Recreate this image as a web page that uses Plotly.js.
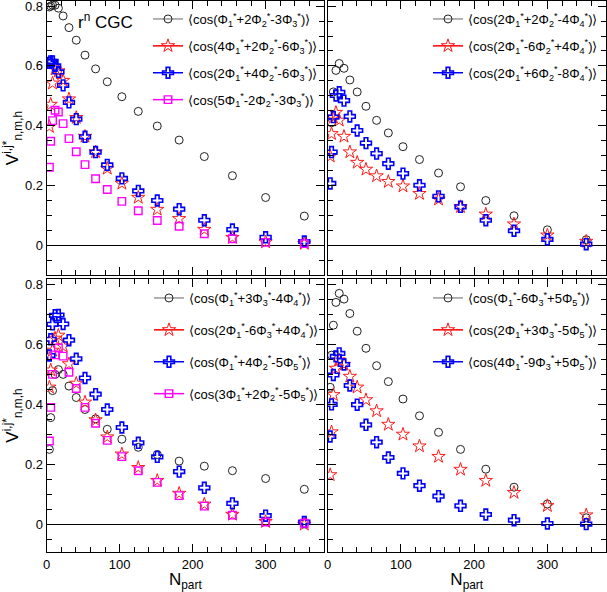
<!DOCTYPE html>
<html>
<head>
<meta charset="utf-8">
<script src="https://cdn.plot.ly/plotly-3.0.1.min.js"></script>
<style>html,body{margin:0;padding:0;background:#fff;}#chart{width:607px;height:592px;}</style>
</head>
<body>
<div id="chart"></div>
<script>
// ---------- data ----------
const NPART = [3.7, 5.5, 8, 11.5, 16, 22.5, 30.5, 40.5, 52.5, 67, 83, 103, 125.5, 151.5, 181.5, 216, 254.5, 300, 353];

// top-left panel
const TL_c1p2m3 = [0.797, 0.800, 0.803, 0.803, 0.793, 0.767, 0.728, 0.686, 0.636, 0.590, 0.547, 0.497, 0.448, 0.399, 0.352, 0.297, 0.233, 0.160, 0.098];
const TL_c4p2m6 = [0.397, 0.471, 0.542, 0.589, 0.583, 0.551, 0.489, 0.427, 0.364, 0.312, 0.257, 0.207, 0.160, 0.120, 0.089, 0.053, 0.026, 0.011, 0.006];
const TL_c2p4m6 = [0.610, 0.615, 0.615, 0.600, 0.580, 0.535, 0.478, 0.422, 0.363, 0.312, 0.269, 0.224, 0.182, 0.150, 0.121, 0.084, 0.053, 0.027, 0.013];
const TL_c5m2m3 = [0.261, 0.348, 0.417, 0.452, 0.446, 0.407, 0.357, 0.313, 0.270, 0.223, 0.187, 0.147, 0.116, 0.083, 0.064, 0.039, 0.022, 0.010, 0.006];

// top-right panel
const TR_c2p2m4 = [null, 0.410, 0.513, 0.585, 0.608, 0.592, 0.553, 0.513, 0.465, 0.418, 0.376, 0.330, 0.287, 0.242, 0.196, 0.150, 0.099, 0.052, 0.019];
const TR_c2m6p4 = [0.298, 0.373, 0.428, 0.444, 0.418, 0.364, 0.312, 0.277, 0.254, 0.232, 0.213, 0.198, 0.173, 0.154, 0.129, 0.104, 0.071, 0.034, 0.013];
const TR_c2p6m8 = [0.207, 0.312, 0.429, 0.501, 0.512, 0.484, 0.431, 0.384, 0.342, 0.307, 0.273, 0.240, 0.201, 0.164, 0.129, 0.084, 0.049, 0.020, 0.004];

// bottom-left panel
const BL_c1p3m4 = [0.250, 0.356, 0.446, 0.500, 0.516, 0.500, 0.461, 0.423, 0.383, 0.352, 0.317, 0.284, 0.257, 0.233, 0.211, 0.194, 0.179, 0.153, 0.117];
const BL_c2m6p4 = [0.457, 0.514, 0.580, 0.620, 0.630, 0.594, 0.535, 0.470, 0.407, 0.348, 0.291, 0.234, 0.189, 0.146, 0.103, 0.067, 0.033, 0.009, 0.000];
const BL_c1p4m5 = [0.563, 0.617, 0.667, 0.697, 0.698, 0.668, 0.614, 0.552, 0.488, 0.434, 0.383, 0.323, 0.272, 0.225, 0.176, 0.122, 0.070, 0.029, 0.008];
const BL_c3p2m5 = [0.278, 0.390, 0.500, 0.565, 0.588, 0.561, 0.507, 0.453, 0.390, 0.337, 0.280, 0.226, 0.179, 0.140, 0.096, 0.061, 0.031, 0.008, 0.004];

// bottom-right panel
const BR_c1m6p5 = [0.457, 0.564, 0.664, 0.740, 0.770, 0.751, 0.703, 0.644, 0.587, 0.529, 0.476, 0.418, 0.362, 0.307, 0.250, 0.184, 0.124, 0.068, 0.022];
const BR_c2p3m5 = [0.165, 0.308, 0.432, 0.520, 0.547, 0.533, 0.493, 0.457, 0.415, 0.378, 0.333, 0.300, 0.261, 0.226, 0.183, 0.146, 0.106, 0.062, 0.031];
const BR_c4m9p5 = [0.293, 0.400, 0.498, 0.560, 0.570, 0.533, 0.463, 0.399, 0.332, 0.274, 0.223, 0.170, 0.129, 0.094, 0.062, 0.033, 0.014, 0.003, 0.001];

const LABELS_TL = ["⟨cos(Φ1*+2Φ2*-3Φ3*)⟩", "⟨cos(4Φ1*+2Φ2*-6Φ3*)⟩", "⟨cos(2Φ1*+4Φ2*-6Φ3*)⟩", "⟨cos(5Φ1*-2Φ2*-3Φ3*)⟩"];
const LABELS_TR = ["⟨cos(2Φ1*+2Φ2*-4Φ4*)⟩", "⟨cos(2Φ1*-6Φ2*+4Φ4*)⟩", "⟨cos(2Φ1*+6Φ2*-8Φ4*)⟩"];
const LABELS_BL = ["⟨cos(Φ1*+3Φ3*-4Φ4*)⟩", "⟨cos(2Φ1*-6Φ3*+4Φ4*)⟩", "⟨cos(Φ1*+4Φ2*-5Φ5*)⟩", "⟨cos(3Φ1*+2Φ2*-5Φ5*)⟩"];
const LABELS_BR = ["⟨cos(Φ1*-6Φ3*+5Φ5*)⟩", "⟨cos(2Φ1*+3Φ3*-5Φ5*)⟩", "⟨cos(4Φ1*-9Φ3*+5Φ5*)⟩"];

// ---------- styles ----------
const STY = {
  circle: {marker: {symbol: 'circle-open', size: 8, color: '#222', line: {width: 1, color: '#222'}}, line: {color: '#999', width: 1.5}},
  star:   {marker: {symbol: 'star-open', size: 10, color: '#ff1a1a', line: {width: 1, color: '#ff1a1a'}}, line: {color: '#ff0000', width: 1.5}},
  cross:  {marker: {symbol: 'cross-open', size: 9, color: '#0000ff', line: {width: 1.6, color: '#0000ff'}}, line: {color: '#0000ff', width: 1.5}},
  square: {marker: {symbol: 'square-open', size: 7.5, color: '#ff00ff', line: {width: 1.4, color: '#ff00ff'}}, line: {color: '#ff00ff', width: 1.5}}
};

function fmt(s) {
  return s.replace(/Φ(\d)\*/g, 'Φ<sub>$1</sub><sup>*</sup>');
}

const traces = [];
let gid = 0;
function addSeries(ys, label, style, xa, ya, legend) {
  const st = STY[style];
  gid++;
  traces.push({
    x: NPART, y: ys, xaxis: xa, yaxis: ya, type: 'scatter', mode: 'markers',
    marker: st.marker, showlegend: false, legendgroup: 'g' + gid, hoverinfo: 'x+y'
  });
  traces.push({
    x: [null], y: [null], xaxis: xa, yaxis: ya, type: 'scatter', mode: 'lines+markers',
    marker: st.marker, line: st.line, name: fmt(label), legend: legend, legendgroup: 'g' + gid, showlegend: true
  });
}

addSeries(TL_c1p2m3, LABELS_TL[0], 'circle', 'x', 'y', 'legend');
addSeries(TL_c4p2m6, LABELS_TL[1], 'star', 'x', 'y', 'legend');
addSeries(TL_c2p4m6, LABELS_TL[2], 'cross', 'x', 'y', 'legend');
addSeries(TL_c5m2m3, LABELS_TL[3], 'square', 'x', 'y', 'legend');

addSeries(TR_c2p2m4, LABELS_TR[0], 'circle', 'x2', 'y2', 'legend2');
addSeries(TR_c2m6p4, LABELS_TR[1], 'star', 'x2', 'y2', 'legend2');
addSeries(TR_c2p6m8, LABELS_TR[2], 'cross', 'x2', 'y2', 'legend2');

addSeries(BL_c1p3m4, LABELS_BL[0], 'circle', 'x3', 'y3', 'legend3');
addSeries(BL_c2m6p4, LABELS_BL[1], 'star', 'x3', 'y3', 'legend3');
addSeries(BL_c1p4m5, LABELS_BL[2], 'cross', 'x3', 'y3', 'legend3');
addSeries(BL_c3p2m5, LABELS_BL[3], 'square', 'x3', 'y3', 'legend3');

addSeries(BR_c1m6p5, LABELS_BR[0], 'circle', 'x4', 'y4', 'legend4');
addSeries(BR_c2p3m5, LABELS_BR[1], 'star', 'x4', 'y4', 'legend4');
addSeries(BR_c4m9p5, LABELS_BR[2], 'cross', 'x4', 'y4', 'legend4');

// ---------- layout ----------
const W = 607, H = 592;
const FONT = 'Liberation Sans, Arial, Helvetica, sans-serif';
const xL = [46.7 / W, 324 / W], xR = [327.5 / W, 606 / W];
const yT = [1 - 275 / H, 1 - 1 / H], yB = [1 - 552 / H, 1 - 279 / H];

function xax(domain, anchor, labels) {
  return {
    domain: domain, anchor: anchor, range: [0, 380], autorange: false,
    dtick: 100, tick0: 0, ticks: 'inside', ticklen: 8, tickwidth: 1, tickcolor: '#000',
    minor: {dtick: 20, ticks: 'inside', ticklen: 5, tickwidth: 1, tickcolor: '#000'},
    showline: true, linecolor: '#000', linewidth: 1, mirror: 'allticks',
    showgrid: false, zeroline: false, showticklabels: labels, ticklabeloverflow: 'allow',
    tickfont: {family: FONT, size: 13, color: '#000'},
    title: labels ? {text: 'N<sub>part</sub>', font: {family: FONT, size: 17, color: '#000'}, standoff: 4} : {text: ''}
  };
}
function yax(domain, anchor, range, labels) {
  return {
    domain: domain, anchor: anchor, range: range, autorange: false,
    dtick: 0.2, tick0: 0, ticks: 'inside', ticklen: 8, tickwidth: 1, tickcolor: '#000',
    minor: {dtick: 0.05, ticks: 'inside', ticklen: 5, tickwidth: 1, tickcolor: '#000'},
    showline: true, linecolor: '#000', linewidth: 1, mirror: 'allticks',
    showgrid: false, zeroline: true, zerolinecolor: '#000', zerolinewidth: 1,
    showticklabels: labels, ticklabeloverflow: 'allow',
    tickfont: {family: FONT, size: 13, color: '#000'},
    title: labels ? {text: 'V<sup>i,j*</sup><sub>n,m,h</sub>', font: {family: FONT, size: 17, color: '#000'}, standoff: 4} : {text: ''}
  };
}
function leg(xpx, ypx, gap) {
  return {
    x: xpx / W, y: 1 - ypx / H, xanchor: 'left', yanchor: 'top', xref: 'paper', yref: 'paper',
    bgcolor: 'rgba(0,0,0,0)', borderwidth: 0, font: {family: FONT, size: 13, color: '#000'},
    tracegroupgap: gap, itemwidth: 30, traceorder: 'grouped'
  };
}

const rangeT = [-0.099, 0.817], rangeB = [-0.092, 0.818];

const layout = {
  width: W, height: H,
  margin: {l: 0, r: 0, t: 0, b: 0, autoexpand: false},
  paper_bgcolor: '#fff', plot_bgcolor: '#fff',
  font: {family: FONT, color: '#000'},
  hovermode: 'closest',
  xaxis: xax(xL, 'y', false),
  yaxis: yax(yT, 'x', rangeT, true),
  xaxis2: xax(xR, 'y2', false),
  yaxis2: yax(yT, 'x2', rangeT, false),
  xaxis3: xax(xL, 'y3', true),
  yaxis3: yax(yB, 'x3', rangeB, true),
  xaxis4: xax(xR, 'y4', true),
  yaxis4: yax(yB, 'x4', rangeB, false),
  legend: leg(148, 4, 7),
  legend2: leg(428, 4, 7),
  legend3: leg(149, 283, 12),
  legend4: leg(428, 283, 12),
  annotations: [{
    text: 'r<sup>n</sup> CGC', xref: 'paper', yref: 'paper', x: 76 / W, y: 1 - 8 / H,
    xanchor: 'left', yanchor: 'top', showarrow: false, font: {family: FONT, size: 17, color: '#000'}
  }]
};

Plotly.newPlot('chart', traces, layout, {displayModeBar: false, staticPlot: false});
</script>
</body>
</html>
